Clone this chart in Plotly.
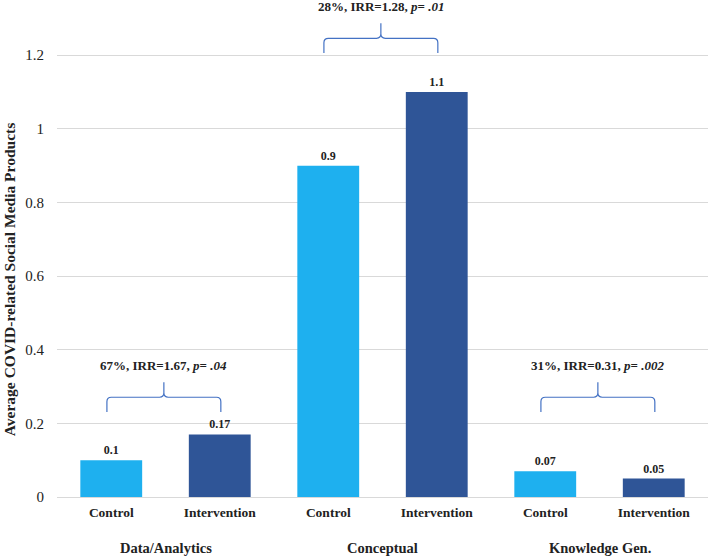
import plotly.graph_objects as go

# ---- data ----
groups = ["Data/Analytics", "Conceptual", "Knowledge Gen."]
arms = ["Control", "Intervention"]
values = [0.1, 0.17, 0.9, 1.1, 0.07, 0.05]
value_labels = ["0.1", "0.17", "0.9", "1.1", "0.07", "0.05"]
tick_labels = ["Control", "Intervention", "Control", "Intervention", "Control", "Intervention"]
stats_text = [
    "67%, IRR=1.67, <i>p</i>= <i>.04</i>",
    "28%, IRR=1.28, <i>p</i>= <i>.01</i>",
    "31%, IRR=0.31, <i>p</i>= <i>.002</i>",
]
# brace levels (bottom of brace) per group, in data units
brace_levels = [0.231, 1.206, 0.231]

FONT = "Liberation Serif"
c_ctrl = "#1EB0EF"
c_int = "#2F5597"
c_brace = "#4472C4"

x_pos = list(range(len(values)))
colors = [c_ctrl if i % 2 == 0 else c_int for i in x_pos]

fig = go.Figure()
fig.add_trace(go.Bar(
    x=x_pos, y=values, marker_color=colors,
    marker_line_width=0,
    text=value_labels, textposition="outside", cliponaxis=False,
    textfont=dict(family=FONT, size=12, color="#222"),
    texttemplate="<b>%{text}</b>",
    width=0.57, hoverinfo="skip",
))

shapes = []
annotations = []
for g, name in enumerate(groups):
    x0 = 2 * g - 0.04
    x1 = 2 * g + 1.01
    xm = (x0 + x1) / 2
    yb = brace_levels[g]
    ymid = yb + 0.04
    ypk = yb + 0.081
    rx, ry = 0.04, 0.012
    path = (f"M {x0},{yb} L {x0},{ymid - ry} Q {x0},{ymid} {x0 + rx},{ymid} "
            f"L {xm - rx},{ymid} Q {xm},{ymid} {xm},{ymid + ry} L {xm},{ypk} "
            f"M {xm},{ymid + ry} Q {xm},{ymid} {xm + rx},{ymid} "
            f"L {x1 - rx},{ymid} Q {x1},{ymid} {x1},{ymid - ry} L {x1},{yb}")
    shapes.append(dict(type="path", path=path, xref="x", yref="y",
                       line=dict(color=c_brace, width=1.2)))
    annotations.append(dict(x=xm, y=yb + 0.125, xref="x", yref="y",
                            text=f"<b>{stats_text[g]}</b>", showarrow=False,
                            font=dict(family=FONT, size=13, color="#222")))
    annotations.append(dict(x=2 * g + 0.5, y=-0.103, xref="x", yref="paper",
                            xanchor="center", yanchor="middle",
                            text=f"<b>{name}</b>", showarrow=False,
                            font=dict(family=FONT, size=14.5, color="#222")))

annotations.append(dict(x=-0.0737, y=0.589, xref="paper", yref="y",
                        xanchor="center", yanchor="middle",
                        text="<b>Average COVID-related Social Media Products</b>",
                        textangle=-90, showarrow=False,
                        font=dict(family=FONT, size=15.5, color="#222")))

fig.update_layout(
    width=708, height=559,
    margin=dict(l=57, r=0, t=0, b=62, autoexpand=False),
    plot_bgcolor="white", paper_bgcolor="white",
    showlegend=False,
    shapes=shapes, annotations=annotations,
    xaxis=dict(range=[-0.5, 5.5], tickvals=x_pos, ticktext=[f"<b>{t}</b>" for t in tick_labels],
               tickfont=dict(family=FONT, size=13.5, color="#222"),
               showgrid=False, zeroline=False, showline=True, linecolor="#d9d9d9",
               ticks="", ticklen=0, ticklabelstandoff=3, automargin=False),
    yaxis=dict(range=[0, 1.35], tickvals=[0, 0.2, 0.4, 0.6, 0.8, 1, 1.2],
               ticktext=["0", "0.2", "0.4", "0.6", "0.8", "1", "1.2"],
               tickfont=dict(family=FONT, size=15, color="#222"),
               showgrid=True, gridcolor="#d9d9d9", gridwidth=1,
               zeroline=False, showline=False, ticks="", ticklabelstandoff=12,
               automargin=False),
)

fig.write_html("out.html", config={"displayModeBar": False},
               post_script="document.body.style.margin='0';")
